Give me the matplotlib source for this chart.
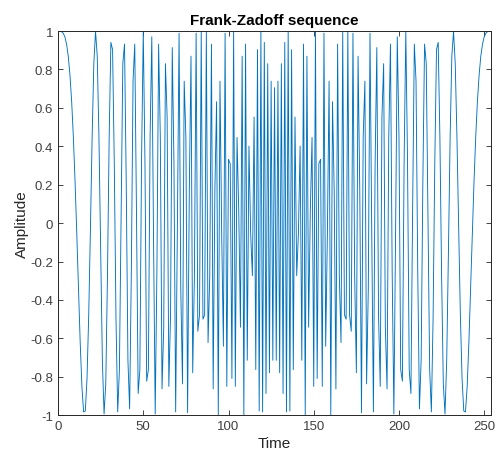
import matplotlib
matplotlib.use('Agg')
import matplotlib.pyplot as plt

first_half = [
    1.000, 1.000, 0.997, 0.989, 0.970, 0.932, 0.869, 0.771, 0.632, 0.446,
    0.214, -0.055, -0.344, -0.622, -0.850, -0.983, -0.978, -0.809, -0.478, -0.031,
    0.446, 0.830, 0.999, 0.869, 0.446, -0.153, -0.714, -0.994, -0.837, -0.274,
    0.446, 0.941, 0.903, 0.309, -0.500, -0.983, -0.763, 0.043, 0.830, 0.932,
    0.214, -0.714, -0.967, -0.250, 0.739, 0.932, 0.068, -0.887, -0.763, 0.332,
    1.000, 0.309, -0.823, -0.763, 0.446, 0.970, -0.055, -0.994, -0.250, 0.932,
    0.446, -0.863, -0.542, 0.830, 0.552, -0.850, -0.478, 0.914, 0.309, -0.983,
    -0.031, 0.989, -0.344, -0.837, 0.739, 0.446, -0.987, 0.166, 0.869, -0.779,
    -0.274, 0.989, -0.563, -0.478, 1.000, -0.500, -0.478, 0.997, -0.622, -0.274,
    0.932, -0.863, 0.166, 0.632, -0.998, 0.739, -0.055, -0.641, 0.989, -0.850,
    0.332, 0.309, -0.809, 1.000, -0.850, 0.446, 0.068, -0.542, 0.869, -0.998,
    0.932, -0.714, 0.401, -0.055, -0.274, 0.552, -0.763, 0.903, -0.978, 1.000,
    -0.983, 0.941, -0.887, 0.830, -0.779, 0.739, -0.714, 0.705,
]
# second half mirrors the first around sample 127
amplitude = first_half + first_half[-2::-1]
time = list(range(len(amplitude)))

xticks = [0, 50, 100, 150, 200, 250]
yticks = [-1, -0.8, -0.6, -0.4, -0.2, 0, 0.2, 0.4, 0.6, 0.8, 1]
ytick_labels = ['-1', '-0.8', '-0.6', '-0.4', '-0.2', '0', '0.2', '0.4', '0.6', '0.8', '1']

plt.rcParams['font.family'] = ['Liberation Sans', 'DejaVu Sans']

fig = plt.figure(figsize=(4.96, 4.64), dpi=100)
ax = fig.add_axes([0.117, 0.103, 0.873, 0.828])

ax.plot(time, amplitude, color='#0072BD', linewidth=0.65)

ax.set_xlim(0, 254)
ax.set_ylim(-1, 1)
ax.set_xticks(xticks)
ax.set_yticks(yticks)
ax.set_yticklabels(ytick_labels)

axis_color = '#262626'
for side in ax.spines.values():
    side.set_color(axis_color)
    side.set_linewidth(0.7)
ax.tick_params(direction='in', top=True, right=True, length=3.5, width=0.6,
               colors=axis_color, labelsize=9.5, labelcolor='#404040')

ax.set_title('Frank-Zadoff sequence', fontsize=11, fontweight='bold', color='black', pad=5)
ax.set_xlabel('Time', fontsize=11, color='#262626', labelpad=3)
ax.set_ylabel('Amplitude', fontsize=11, color='#262626', labelpad=1)

fig.savefig('out.png', dpi=100)
